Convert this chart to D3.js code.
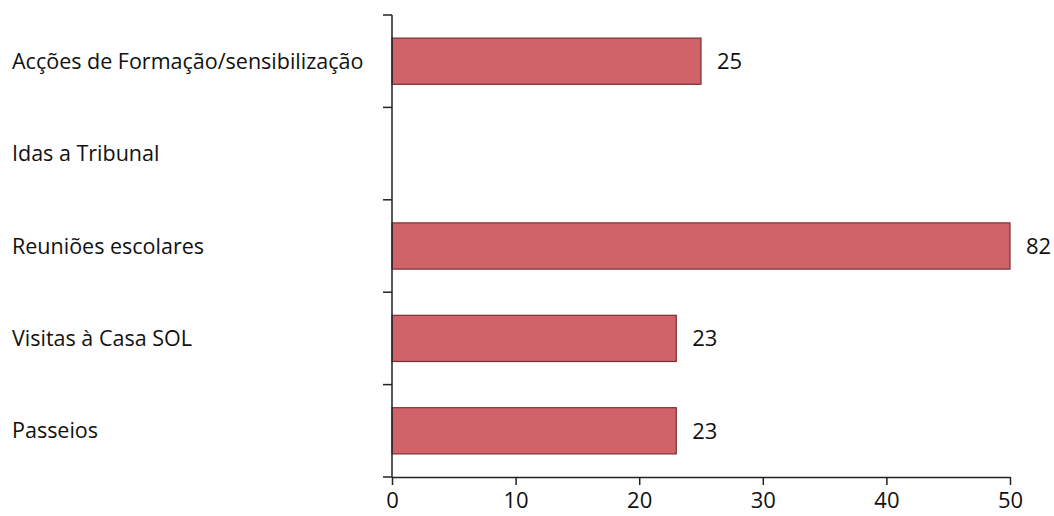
<!DOCTYPE html>
<html><head><meta charset="utf-8">
<script src="https://cdn.jsdelivr.net/npm/d3@7/dist/d3.min.js"></script>
<style>body{margin:0;background:#fff}svg{display:block}text{font-family:"Open Sans",sans-serif;fill:#111}</style>
</head><body>
<svg id="c" width="1054" height="516"></svg>
<script>
const categories = ["Acções de Formação/sensibilização","Idas a Tribunal","Reuniões escolares","Visitas à Casa SOL","Passeios"];
const values = [25, 0, 82, 23, 23];
const xTicks = [0,10,20,30,40,50];

const svg = d3.select("#c");
const mLeft = 392, mRight = 1010, mTop = 15, mBottom = 477;
const x = d3.scaleLinear().domain([0,50]).range([mLeft,mRight]).clamp(true);
const y = d3.scaleBand().domain(categories).range([mTop,mBottom]).paddingInner(0.5).paddingOuter(0.25);

svg.selectAll("rect.bar").data(values).join("rect")
  .attr("class","bar")
  .attr("x", x(0))
  .attr("y", (d,i)=>y(categories[i]))
  .attr("width", d=>x(d)-x(0))
  .attr("height", y.bandwidth())
  .attr("fill","#d0636a")
  .attr("stroke","#7c2e34")
  .attr("stroke-width",1.2);

svg.selectAll("text.val").data(values).join("text")
  .attr("class","val")
  .attr("x", d=>x(d)+16)
  .attr("y", (d,i)=>y(categories[i])+y.bandwidth()/2)
  .attr("dy","0.35em")
  .attr("font-size",22)
  .text(d=>d===0?"":d);

const yAxis = svg.append("g");
yAxis.append("line").attr("x1",mLeft).attr("x2",mLeft).attr("y1",mTop).attr("y2",mBottom).attr("stroke","#222").attr("stroke-width",1.5);
const step = (mBottom-mTop)/categories.length;
d3.range(categories.length+1).forEach(i=>{
  yAxis.append("line").attr("x1",mLeft-9).attr("x2",mLeft).attr("y1",mTop+i*step).attr("y2",mTop+i*step).attr("stroke","#222").attr("stroke-width",1.5);
});
svg.selectAll("text.cat").data(categories).join("text")
  .attr("class","cat")
  .attr("x",12)
  .attr("y",d=>y(d)+y.bandwidth()/2)
  .attr("dy","0.35em")
  .attr("font-size",21.5)
  .text(d=>d);

const xAxis = d3.axisBottom(x).tickValues(xTicks).tickSize(8).tickSizeOuter(0).tickPadding(7);
const gx = svg.append("g").attr("transform",`translate(0,${mBottom})`).call(xAxis);
gx.select(".domain").attr("stroke","#222").attr("stroke-width",1.5);
gx.selectAll(".tick line").attr("stroke","#222").attr("stroke-width",1.5);
gx.selectAll(".tick text").attr("font-size",22).attr("font-family","Open Sans, sans-serif").attr("fill","#111");
</script>
</body></html>
